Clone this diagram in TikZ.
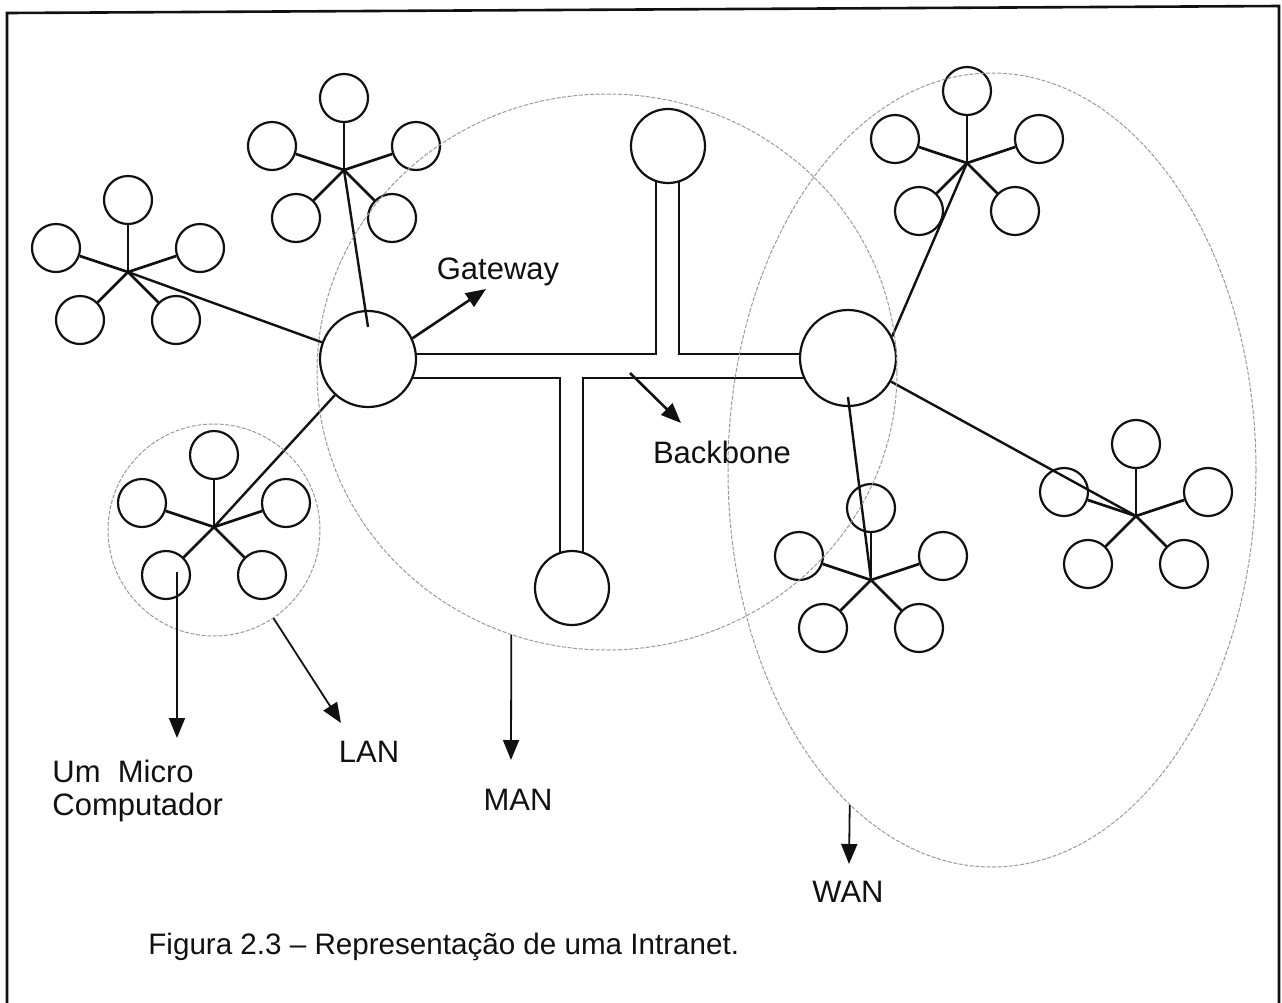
\documentclass[tikz,border=0pt]{standalone}
\usepackage{fontspec}
\setmainfont{Liberation Sans}
\usepackage{xcolor}
\usepackage{tikz}
\usetikzlibrary{calc,arrows.meta,shapes.geometric,backgrounds}
\definecolor{ink}{HTML}{111111}
\definecolor{zonec}{HTML}{9A9A9A}
\tikzset{
  pc/.style={draw=ink, circle, line width=1.1pt, minimum size=24pt, inner sep=0pt},
  hub/.style={draw=ink, circle, fill=white, line width=1.1pt, minimum size=48pt, inner sep=0pt},
  bbend/.style={draw=ink, circle, fill=white, line width=1.1pt, minimum size=37pt, inner sep=0pt},
  spoke/.style={draw=ink, line width=1.35pt},
  link/.style={draw=ink, line width=1.2pt},
  bar/.style={draw=ink, line width=1.1pt},
  zone/.style={draw=zonec, line width=0.5pt, dash pattern=on 2pt off 0.8pt, inner sep=0pt},
  arr/.style={draw=ink, line width=0.9pt, -{Triangle[length=10pt,width=8pt]}},
  lab/.style={text=ink, font=\fontsize{15.5}{16.5}\selectfont, inner sep=0pt},
  boxline/.style={draw=ink, line width=1.3pt},
}

\begin{document}
\begin{tikzpicture}[x=0.5pt,y=-0.5pt]
  \useasboundingbox (0,0) rectangle (1282,1003);
  \draw[boxline] (7,1003) -- (7,13) -- (1279,6) -- (1279,1003);

  \node[hub] (gw) at (368,359) {};
  \node[hub] (gw2) at (848,358) {};
  \node[bbend] (bbt) at (668,146) {};
  \node[bbend] (bbb) at (572,588) {};

  \begin{scope}[on background layer]
    \draw[bar] ($(gw)+(0,-5)$) -| ($(bbt)+(-12,0)$);
    \draw[bar] ($(bbt)+(11,0)$) |- ($(gw2)+(0,-4)$);
    \draw[bar] ($(gw)+(0,19)$) -| ($(bbb)+(-12,0)$);
    \draw[bar] ($(bbb)+(11,0)$) |- ($(gw2)+(0,20)$);
  \end{scope}

  \foreach \s/\x/\y in {A/128/272,B/344/170,C/214/527,D/967/163,E/871/580,F/1136/516}{
    \coordinate (\s) at (\x,\y);
    \foreach \p/\dx/\dy in {t/0/-72,ul/-72/-24,ur/72/-24,ll/-48/48,lr/48/48}{
      \node[pc] (\s\p) at ($(\s)+(\dx,\dy)$) {};
      \draw[spoke] (\s) -- (\s\p);
    }
  }

  \coordinate (gwin) at ($(gw)+(0,-32)$);
  \coordinate (gw2in) at ($(gw2)+(0,39)$);
  \draw[link] (A) -- (gw);
  \draw[link] (B) -- (gwin);
  \draw[link] (gw) -- (C);
  \draw[link] (D) -- (gw2.26);
  \draw[link] (gw2in) -- (E);
  \draw[link] (gw2) -- (F);

  \node[zone, circle, minimum size=106pt] (lan) at (214,530) {};
  \node[zone, ellipse, minimum width=290pt, minimum height=278pt] (man) at (607,372) {};
  \node[zone, ellipse, minimum width=264pt, minimum height=397pt] (wan) at (992,470) {};

  \node[lab] (gwl) at (498,272) {Gateway};
  \coordinate (gwtip) at (486,289);
  \draw[arr, line width=1.3pt] (gw.25) -- (gwtip);
  \node[lab] (bbl) at (722,452) {Backbone};
  \coordinate (bbfrom) at (630,373);
  \coordinate (bbtip) at (681,423);
  \draw[arr, line width=1.3pt] (bbfrom) -- (bbtip);

  \node[lab, anchor=west, align=left] (micro) at (52,791) {Um\ \ Micro\\Computador};
  \coordinate (microfrom) at ($(Cll)+(11,-3)$);
  \coordinate (microtip) at (177,738);
  \draw[arr] (microfrom) -- (microtip);
  \node[lab] (lanl) at (369,752) {LAN};
  \coordinate (lantip) at (341,723);
  \draw[arr] (lan.-56) -- (lantip);
  \node[lab] (manl) at (518,800) {MAN};
  \coordinate (mantip) at (511,760);
  \draw[arr] (man.-110) -- (mantip);
  \node[lab] (wanl) at (848,892) {WAN};
  \coordinate (wantip) at (849,864);
  \draw[arr] (wan.-113) -- (wantip);

  \node[lab, anchor=west, font=\fontsize{14.8}{16}\selectfont] (cap) at (148,947) {Figura 2.3 – Representação de uma Intranet.};
\end{tikzpicture}
\end{document}
